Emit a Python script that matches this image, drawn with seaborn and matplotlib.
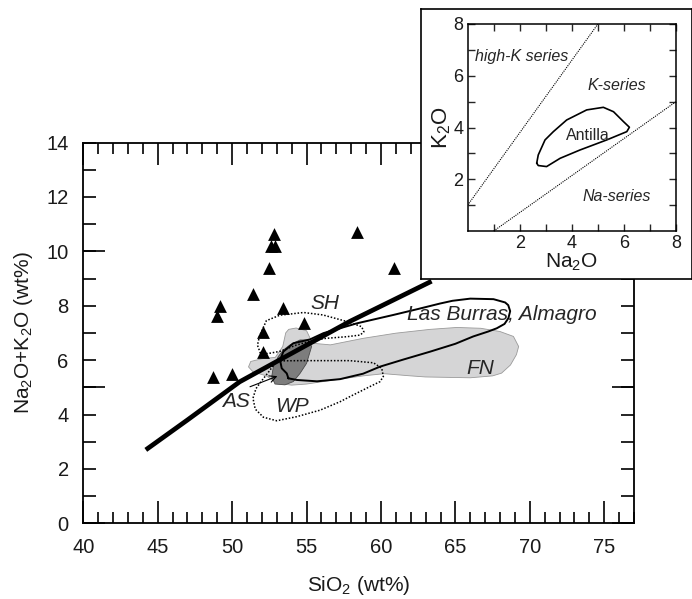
import matplotlib
matplotlib.use("Agg")
import matplotlib.pyplot as plt
from matplotlib.ticker import FixedLocator, FuncFormatter
import seaborn as sns
import pandas as pd

sns.set_theme(style="ticks")
plt.rcParams["font.family"] = ["Liberation Sans", "DejaVu Sans"]
plt.rcParams["mathtext.fontset"] = "custom"
plt.rcParams["mathtext.rm"] = "Liberation Sans"
plt.rcParams["mathtext.it"] = "Liberation Sans:italic"
plt.rcParams["mathtext.default"] = "regular"

# ---- sample compositions: SiO2 vs total alkalis (wt%) ----
sio2_samples = [48.7, 50.0, 49.0, 49.2, 51.4, 52.1, 52.1, 52.5, 52.6, 52.9,
                52.8, 53.4, 54.8, 58.4, 60.9]
alk_samples = [5.39, 5.48, 7.63, 8.0, 8.42, 7.02, 6.31, 9.38, 10.19, 10.19,
               10.62, 7.93, 7.38, 10.72, 9.37]

# alkaline / subalkaline dividing line
divide_sio2 = [44.2, 47.0, 50.5, 55.0, 57.9, 60.8, 63.4]
divide_alk = [2.7, 3.8, 5.2, 6.55, 7.42, 8.2, 8.9]

# FN field (light grey)
fn_sio2 = [51.1, 51.25, 52.0, 52.9, 53.4, 53.6, 53.8, 54.3, 55.0, 55.2, 55.4,
           56.6, 58.8, 61.0, 63.3, 65.1, 66.7, 68.0, 68.9, 69.25, 69.1, 68.7,
           68.1, 67.5, 66.0, 63.0, 62.0, 60.2, 58.8, 56.6, 55.0, 54.0, 53.0,
           52.3, 51.4]
fn_alk = [5.75, 5.95, 6.05, 6.1, 6.5, 7.0, 7.13, 7.18, 7.08, 6.85, 6.62,
          6.56, 6.8, 6.99, 7.13, 7.2, 7.17, 7.05, 6.87, 6.5, 6.2, 5.82,
          5.52, 5.42, 5.35, 5.38, 5.42, 5.5, 5.42, 5.25, 5.12, 5.08, 5.15,
          5.42, 5.57]

# dark grey field
dark_sio2 = [53.1, 53.44, 53.89, 54.56, 55.12, 55.34, 55.0, 54.56, 54.11,
             53.55, 52.88, 52.66, 52.77]
dark_alk = [6.13, 6.37, 6.56, 6.74, 6.74, 6.50, 5.88, 5.51, 5.21,
            5.09, 5.12, 5.39, 5.76]

# SH field (dotted)
sh_sio2 = [51.9, 51.7, 51.85, 52.3, 53.2, 54.8, 56.1, 57.7, 58.7, 58.85, 58.6,
           57.7, 56.3, 55.4, 54.3, 53.2, 52.4]
sh_alk = [6.25, 6.55, 6.9, 7.45, 7.65, 7.75, 7.66, 7.42, 7.23, 7.04, 6.92,
          6.86, 6.8, 6.72, 6.55, 6.32, 6.24]

# WP field (dotted)
wp_sio2 = [53.0, 54.5, 57.0, 57.9, 59.5, 60.05, 60.16, 59.94, 59.27, 57.92,
           57.25, 55.91, 54.34, 52.99, 52.1, 51.55, 51.4, 51.6, 52.0, 52.5]
wp_alk = [5.97, 5.98, 5.98, 5.98, 5.9, 5.7, 5.4, 5.21, 5.03, 4.66,
          4.47, 4.16, 3.92, 3.77, 3.9, 4.2, 4.6, 4.95, 5.25, 5.6]

# Las Burras, Almagro field (solid outline)
lb_sio2 = [53.78, 54.34, 55.7, 57.25, 58.8, 59.94, 61.5, 63.3, 65.0, 66.2,
           67.2, 67.78, 68.3, 68.56, 68.68, 68.55, 68.34, 67.56, 66.0, 64.8,
           63.97, 62.5, 60.83, 58.37, 56.13, 55.23, 54.11, 53.44, 53.22,
           53.33, 53.67, 53.78]
lb_alk = [5.33, 5.27, 5.22, 5.3, 5.5, 5.76, 6.02, 6.31, 6.6, 6.87,
          7.05, 7.17, 7.33, 7.54, 7.8, 8.02, 8.12, 8.24, 8.26, 8.18,
          8.08, 7.88, 7.66, 7.35, 6.99, 6.76, 6.62, 6.31, 6.0,
          5.70, 5.51, 5.33]

# ---- inset: Na2O vs K2O ----
highk_na2o = [0.0, 5.0]
highk_k2o = [1.0, 8.0]
naser_na2o = [1.0, 8.0]
naser_k2o = [0.0, 5.0]
antilla_na2o = [2.65, 2.71, 2.97, 3.29, 3.80, 4.57, 5.21, 5.60, 5.98, 6.21,
                6.11, 5.34, 4.31, 3.55, 3.03, 2.71, 2.65]
antilla_k2o = [2.62, 2.94, 3.52, 3.84, 4.29, 4.68, 4.78, 4.61, 4.23, 4.01,
               3.84, 3.52, 3.13, 2.81, 2.49, 2.53, 2.62]

W, H = 692, 599
fig = plt.figure(figsize=(W / 100, H / 100), dpi=100)
fig.patch.set_facecolor("white")

# ---------------- main TAS diagram ----------------
ax = fig.add_axes([83.3 / W, 1 - 523.3 / H, (634 - 83.3) / W, (523.3 - 142.5) / H])
ax.set_facecolor("white")
ax.set_xlim(40, 77)
ax.set_ylim(0, 14)

ax.fill(fn_sio2, fn_alk, facecolor="#d5d5d6", edgecolor="#9a9a9a", lw=0.6, zorder=1)
ax.fill(dark_sio2, dark_alk, facecolor="#7d7d7d", edgecolor="#4a4a4a", lw=0.6, zorder=2)
ax.fill(sh_sio2, sh_alk, facecolor="none", edgecolor="black", lw=1.1,
        linestyle=(0, (1, 1.2)), zorder=3)
ax.fill(wp_sio2, wp_alk, facecolor="none", edgecolor="black", lw=1.1,
        linestyle=(0, (1, 1.2)), zorder=3)
ax.plot(lb_sio2, lb_alk, color="black", lw=1.4, zorder=4)

div = pd.DataFrame({"SiO2": divide_sio2, "alk": divide_alk})
sns.lineplot(data=div, x="SiO2", y="alk", sort=False, estimator=None,
             color="black", lw=3.4, ax=ax, zorder=5)
ax.lines[-1].set_solid_capstyle("butt")
ax.lines[-1].set_solid_joinstyle("round")

samples = pd.DataFrame({"SiO2": sio2_samples, "alk": alk_samples})
sns.scatterplot(data=samples, x="SiO2", y="alk", marker="^", s=85,
                color="black", linewidth=0, ax=ax, zorder=6)

ax.annotate("", xy=(53.04, 5.41), xytext=(51.2, 5.02),
            arrowprops=dict(arrowstyle="->", lw=0.8, color="black",
                            mutation_scale=12, shrinkA=0, shrinkB=0), zorder=7)

lab_kw = dict(fontsize=15, style="italic", ha="center", va="center", zorder=7)
ax.text(56.24, 8.09, "SH", **lab_kw)
ax.text(50.24, 4.47, "AS", **lab_kw)
ax.text(54.0, 4.29, "WP", **lab_kw)
ax.text(68.11, 7.66, "Las Burras, Almagro", **lab_kw)
ax.text(66.66, 5.70, "FN", **lab_kw)

ax.xaxis.set_major_locator(FixedLocator(list(range(40, 80, 5))))
ax.xaxis.set_minor_locator(FixedLocator(list(range(40, 78))))
ax.yaxis.set_major_locator(FixedLocator(list(range(0, 15))))
ax.yaxis.set_minor_locator(FixedLocator([0, 5, 10]))
ax.yaxis.remove_overlapping_locs = False
ax.yaxis.set_major_formatter(FuncFormatter(lambda v, p: f"{int(v)}" if int(v) % 2 == 0 else ""))

ax.tick_params(axis="both", which="both", direction="in", top=True, right=True,
               width=1.2, color="black", labelsize=14.5, pad=10.5, labelcolor="#1a1a1a")
ax.tick_params(axis="x", which="major", length=15.8)
ax.tick_params(axis="x", which="minor", length=7.9)
ax.tick_params(axis="y", which="major", length=9.4)
ax.tick_params(axis="y", which="minor", length=15.8)
for s in ax.spines.values():
    s.set_linewidth(1.3)
    s.set_color("black")

ax.set_xlabel("SiO$_2$ (wt%)", fontsize=15, color="#1a1a1a", labelpad=12)
ax.set_ylabel("Na$_2$O+K$_2$O (wt%)", fontsize=15, color="#1a1a1a", labelpad=8)

# ---------------- inset frame ----------------
frame = fig.add_axes([421 / W, 1 - 279 / H, 270.5 / W, 270 / H])
frame.set_facecolor("white")
frame.set_xticks([])
frame.set_yticks([])
frame.set_zorder(3)
for s in frame.spines.values():
    s.set_linewidth(1.2)
    s.set_color("black")

# ---------------- inset: Na2O vs K2O ----------------
ins = fig.add_axes([467.7 / W, 1 - 231 / H, (676 - 467.7) / W, (231 - 24) / H])
ins.set_zorder(4)
ins.set_facecolor("none")
ins.set_xlim(0, 8)
ins.set_ylim(0, 8)

sns.lineplot(x=highk_na2o, y=highk_k2o, color="black", lw=0.8,
             linestyle=(0, (1, 1)), ax=ins)
sns.lineplot(x=naser_na2o, y=naser_k2o, color="black", lw=0.8,
             linestyle=(0, (1, 1)), ax=ins)
ins.plot(antilla_na2o, antilla_k2o, color="black", lw=1.2)

ins_kw = dict(fontsize=11.5, ha="center", va="center")
ins.text(2.07, 6.74, "high-K series", style="italic", **ins_kw)
ins.text(5.72, 5.64, "K-series", style="italic", **ins_kw)
ins.text(4.6, 3.71, "Antilla", **ins_kw)
ins.text(5.72, 1.33, "Na-series", style="italic", **ins_kw)

ins.xaxis.set_major_locator(FixedLocator(list(range(1, 9))))
ins.yaxis.set_major_locator(FixedLocator(list(range(1, 9))))
even_fmt = FuncFormatter(lambda v, p: f"{int(v)}" if int(v) % 2 == 0 else "")
ins.xaxis.set_major_formatter(even_fmt)
ins.yaxis.set_major_formatter(even_fmt)
ins.tick_params(axis="both", which="major", direction="in", top=True, right=True,
                length=5, width=1.0, labelsize=13, pad=3, labelcolor="#1a1a1a")
for s in ins.spines.values():
    s.set_linewidth(1.1)
    s.set_color("black")
ins.set_xlabel("Na$_2$O", fontsize=15, labelpad=0, color="#1a1a1a")
ins.set_ylabel("K$_2$O", fontsize=16, labelpad=0, color="#1a1a1a")

fig.savefig("out.png", dpi=100, facecolor="white")
